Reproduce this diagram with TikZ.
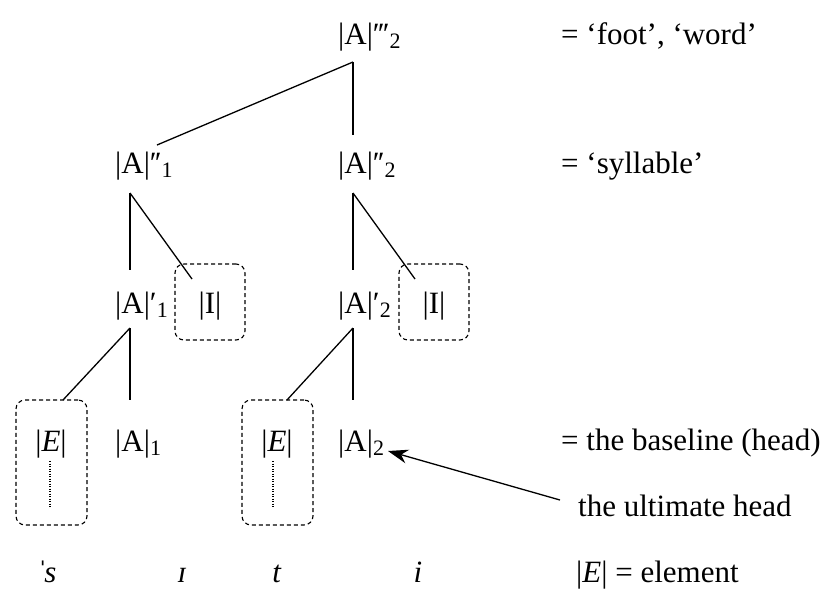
\documentclass[tikz,border=0pt]{standalone}
\usepackage{fontspec}
\setmainfont{Liberation Serif}
\usetikzlibrary{arrows.meta}
\newcommand\lowsub[1]{\raisebox{-0.32ex}{\fontsize{22}{25}\selectfont #1}}
\newcommand\pone{′}
\newcommand\ptwo{′\kern-0.06em′}
\newcommand\pthree{′\kern-0.06em′\kern-0.06em′}
\begin{document}
\begin{tikzpicture}[x=1pt,y=-1pt,
  every node/.style={font=\fontsize{31}{36}\selectfont, inner sep=0pt},
  lbl/.style={anchor=base west},
  ctr/.style={anchor=base},
  branch/.style={line width=1.3pt},
  ebox/.style={draw, dash pattern=on 4pt off 3pt, line width=1.1pt, rounded corners=9pt,
    minimum width=71pt, minimum height=125pt},
  ibox/.style={draw, dash pattern=on 4pt off 3pt, line width=1.1pt, rounded corners=9pt,
    minimum width=70pt, minimum height=76pt},
  dotline/.style={line width=2pt, dash pattern=on 1.2pt off 1.3pt},
  pointer/.style={line width=1.3pt, -{Stealth[length=20pt,width=14pt]}}
]
\useasboundingbox (0,0) rectangle (825,590);

% tree nodes
\node[lbl] (T)  at (338,44)  {|A|\pthree\lowsub{2}};
\node[lbl] (L2) at (115,173) {|A|\ptwo\lowsub{1}};
\node[lbl] (R2) at (338,173) {|A|\ptwo\lowsub{2}};
\node[lbl] (L3) at (115,313) {|A|\pone\lowsub{1}};
\node[lbl] (R3) at (338,313) {|A|\pone\lowsub{2}};
\node[ctr] (I1) at (210,313) {|I|};
\node[ctr] (I2) at (434,313) {|I|};
\node[ctr] (E1) at (51,451)  {|\textit{E}|};
\node[ctr] (E2) at (277,451) {|\textit{E}|};
\node[lbl] (A1) at (115,451) {|A|\lowsub{1}};
\node[lbl] (A2) at (338,451) {|A|\lowsub{2}};

% dashed boxes
\node[ibox] (BI1) at (210,302) {};
\node[ibox] (BI2) at (434,302) {};
\node[ebox] (BE1) at (51.5,462.5) {};
\node[ebox] (BE2) at (277.5,462.5) {};

% connection points
\coordinate (Ttop) at (353,62);
\coordinate (R2in) at (353,135);
\coordinate (L2in) at (157,145);
\coordinate (L2o) at (130,193);
\coordinate (R2o) at (353,193);
\coordinate (L3in) at (130,270);
\coordinate (R3in) at (353,270);
\coordinate (I1in) at (192,279);
\coordinate (I2in) at (415,279);
\coordinate (L3o) at (130,328);
\coordinate (R3o) at (353,328);
\coordinate (A1in) at (130,400);
\coordinate (A2in) at (353,400);
\coordinate (E1in) at (63,400);
\coordinate (E2in) at (287,400);

\draw[branch] (Ttop) -- (R2in);
\draw[branch] (Ttop) -- (L2in);
\draw[branch] (L2o) -- (L3in);
\draw[branch] (L2o) -- (I1in);
\draw[branch] (R2o) -- (R3in);
\draw[branch] (R2o) -- (I2in);
\draw[branch] (L3o) -- (A1in);
\draw[branch] (L3o) -- (E1in);
\draw[branch] (R3o) -- (A2in);
\draw[branch] (R3o) -- (E2in);

% dotted association lines
\coordinate (E1d1) at (50,461);
\coordinate (E1d2) at (50,508);
\coordinate (E2d1) at (273,461);
\coordinate (E2d2) at (273,508);
\draw[dotline] (E1d1) -- (E1d2);
\draw[dotline] (E2d1) -- (E2d2);

% right labels
\node[lbl] (foot) at (561,44)  {= ‘foot’, ‘word’};
\node[lbl] (syl)  at (561,173) {= ‘syllable’};
\node[lbl] (base) at (561,450) {= the baseline (head)};
\node[lbl] (ult)  at (578,516) {the ultimate head};
\node[lbl] (elem) at (576,582) {|\textit{E}| = element};

% arrow
\coordinate (arrtail) at (560,500);
\coordinate (arrtip) at (388,451);
\draw[pointer] (arrtail) -- (arrtip);

% segments
\node[ctr] (s1) at (47,582)  {\textit{ˈ\kern-0.12em s}};
\node[ctr] (s2) at (182,582) {\textit{ɪ}};
\node[ctr] (s3) at (277,582) {\textit{t}};
\node[ctr] (s4) at (418,582) {\textit{i}};
\end{tikzpicture}
\end{document}
